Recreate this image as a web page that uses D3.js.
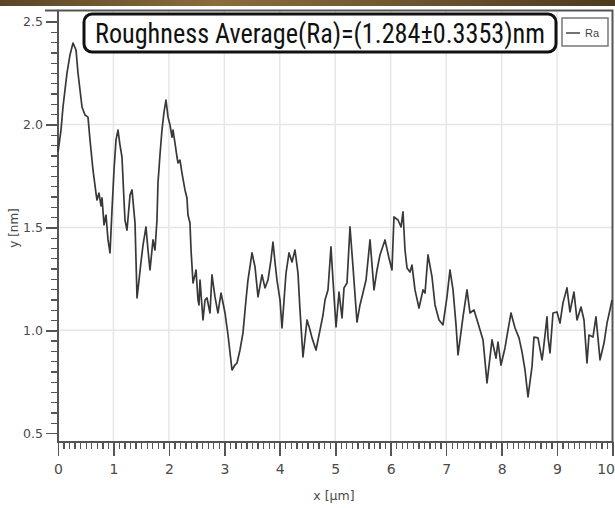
<!DOCTYPE html>
<html lang="en">
<head>
<meta charset="UTF-8">
<title>Roughness profile</title>
<script src="https://d3js.org/d3.v7.min.js"></script>
<style>
    body { margin: 0; background: #fff; }
    .axis path, .axis line { stroke: #555; shape-rendering: crispEdges; }
    .axis text { font-family: 'DejaVu Sans', sans-serif; font-size: 12.5px; fill: #4a4a4a; }
    .grid line { stroke: #e6e6e6; stroke-width: 1.5; }
    .profile { fill: none; stroke: #383838; stroke-width: 1.7; stroke-linejoin: round; }
</style>
</head>
<body>
<svg width="615" height="508"></svg>
<script>
// profile position along the scan, in µm
const xPos = [
    0.000, 0.054, 0.090, 0.162, 0.216, 0.271, 0.325, 0.361, 0.433, 0.487,
    0.541, 0.577, 0.631, 0.685, 0.703, 0.739, 0.776, 0.794, 0.830, 0.866,
    0.902, 0.938, 0.974, 1.010, 1.046, 1.082, 1.118, 1.154, 1.190, 1.208,
    1.244, 1.299, 1.335, 1.389, 1.425, 1.461, 1.497, 1.533, 1.587, 1.623,
    1.659, 1.713, 1.749, 1.785, 1.803, 1.839, 1.875, 1.912, 1.948, 1.984,
    2.020, 2.056, 2.074, 2.110, 2.146, 2.164, 2.200, 2.236, 2.290, 2.326,
    2.344, 2.380, 2.399, 2.435, 2.471, 2.489, 2.525, 2.543, 2.561, 2.615,
    2.651, 2.687, 2.741, 2.777, 2.831, 2.885, 2.940, 3.012, 3.066, 3.138,
    3.192, 3.228, 3.282, 3.336, 3.390, 3.426, 3.499, 3.553, 3.607, 3.679,
    3.733, 3.787, 3.841, 3.877, 3.913, 3.949, 4.004, 4.040, 4.112, 4.166,
    4.220, 4.274, 4.328, 4.364, 4.418, 4.491, 4.545, 4.581, 4.653, 4.725,
    4.779, 4.815, 4.869, 4.923, 4.959, 5.014, 5.068, 5.122, 5.158, 5.212,
    5.266, 5.320, 5.392, 5.446, 5.482, 5.555, 5.627, 5.699, 5.753, 5.807,
    5.897, 5.969, 6.023, 6.059, 6.132, 6.186, 6.222, 6.258, 6.294, 6.348,
    6.384, 6.438, 6.510, 6.583, 6.619, 6.673, 6.745, 6.799, 6.871, 6.943,
    7.015, 7.069, 7.124, 7.178, 7.214, 7.304, 7.376, 7.430, 7.502, 7.574,
    7.665, 7.737, 7.827, 7.899, 7.935, 7.989, 8.061, 8.115, 8.170, 8.242,
    8.314, 8.368, 8.422, 8.476, 8.548, 8.584, 8.656, 8.729, 8.747, 8.819,
    8.837, 8.873, 8.927, 8.999, 9.053, 9.107, 9.179, 9.233, 9.305, 9.360,
    9.432, 9.486, 9.540, 9.576, 9.648, 9.702, 9.775, 9.847, 9.901, 9.973,
    9.991
];
// height, in nm
const heightNm = [
    1.866, 1.973, 2.085, 2.250, 2.338, 2.396, 2.362, 2.250, 2.085, 2.046,
    2.036, 1.925, 1.779, 1.667, 1.633, 1.667, 1.604, 1.643, 1.512, 1.560,
    1.439, 1.376, 1.585, 1.779, 1.925, 1.973, 1.900, 1.842, 1.633, 1.536,
    1.487, 1.657, 1.682, 1.521, 1.157, 1.244, 1.332, 1.414, 1.502, 1.390,
    1.293, 1.439, 1.390, 1.536, 1.716, 1.852, 1.973, 2.061, 2.119, 2.036,
    1.998, 1.939, 1.973, 1.910, 1.842, 1.813, 1.827, 1.764, 1.682, 1.643,
    1.560, 1.521, 1.390, 1.230, 1.269, 1.293, 1.147, 1.123, 1.244, 1.050,
    1.147, 1.157, 1.084, 1.269, 1.162, 1.084, 1.181, 1.084, 0.977, 0.807,
    0.831, 0.841, 0.904, 0.987, 1.147, 1.244, 1.376, 1.308, 1.162, 1.269,
    1.206, 1.244, 1.342, 1.429, 1.332, 1.244, 1.147, 1.011, 1.278, 1.376,
    1.332, 1.390, 1.278, 1.099, 0.870, 1.050, 1.001, 0.963, 0.904, 1.001,
    1.074, 1.147, 1.196, 1.405, 1.244, 1.016, 1.186, 1.060, 1.206, 1.230,
    1.502, 1.308, 1.040, 1.123, 1.162, 1.244, 1.439, 1.196, 1.293, 1.366,
    1.439, 1.351, 1.293, 1.551, 1.536, 1.502, 1.575, 1.390, 1.303, 1.283,
    1.317, 1.196, 1.108, 1.196, 1.181, 1.366, 1.259, 1.123, 1.050, 1.026,
    1.162, 1.293, 1.196, 1.026, 0.880, 1.065, 1.196, 1.084, 1.099, 1.035,
    0.953, 0.744, 0.953, 0.865, 0.943, 0.831, 0.914, 1.001, 1.084, 1.011,
    0.963, 0.895, 0.807, 0.676, 0.822, 0.967, 0.963, 0.856, 0.890, 1.065,
    0.967, 0.890, 1.084, 1.089, 1.035, 1.133, 1.206, 1.089, 1.186, 1.050,
    1.113, 1.050, 0.841, 0.977, 0.967, 1.065, 0.856, 0.938, 1.035, 1.123,
    1.147
];
const xTicks = [0, 1, 2, 3, 4, 5, 6, 7, 8, 9, 10];
const yTicks = [0.5, 1.0, 1.5, 2.0, 2.5];
const yGrid = [1.0, 1.5, 2.0];
const titleText = "Roughness Average(Ra)=(1.284\u00b10.3353)nm";
const seriesName = "Ra";

const svg = d3.select("svg");
const plotL = 58, plotR = 612.5, plotT = 10.5, plotB = 442;

const x = d3.scaleLinear().domain([0, 10]).range([plotL, plotR]);
const y = d3.scaleLinear().domain([0.457, 2.554]).range([plotB, plotT]);

// brownish strip along the top edge
const grad = svg.append("defs").append("linearGradient")
    .attr("id", "wood").attr("x1", 0).attr("x2", 1);
grad.append("stop").attr("offset", "0%").attr("stop-color", "#5b4526");
grad.append("stop").attr("offset", "35%").attr("stop-color", "#8a6d3c");
grad.append("stop").attr("offset", "70%").attr("stop-color", "#6a5230");
grad.append("stop").attr("offset", "100%").attr("stop-color", "#4e3a1e");
svg.append("rect").attr("x", 0).attr("y", 0).attr("width", 615).attr("height", 6)
    .attr("fill", "url(#wood)");

// grid
const grid = svg.append("g").attr("class", "grid");
grid.selectAll(".gx").data(xTicks.slice(1, -1)).enter().append("line")
    .attr("x1", d => x(d)).attr("x2", d => x(d)).attr("y1", plotT).attr("y2", plotB);
grid.selectAll(".gy").data(yGrid).enter().append("line")
    .attr("x1", plotL).attr("x2", plotR).attr("y1", d => y(d)).attr("y2", d => y(d));

// minor ticks first, then major with labels
const xMinor = d3.range(0, 100).map(i => i / 10).filter(v => v % 1 !== 0);
const yMinor = d3.range(10, 51).map(i => i / 20).filter(v => Math.abs(v * 2 - Math.round(v * 2)) > 1e-6);

svg.append("g").attr("class", "axis")
    .attr("transform", "translate(0," + plotB + ")")
    .call(d3.axisBottom(x).tickValues(xMinor).tickSize(7).tickFormat(""))
    .call(g => g.select(".domain").remove())
    .selectAll("line").attr("stroke-width", 1.3);

svg.append("g").attr("class", "axis")
    .attr("transform", "translate(0," + plotB + ")")
    .call(d3.axisBottom(x).tickValues(xTicks).tickSize(14).tickPadding(10).tickFormat(d3.format("d")))
    .call(g => g.select(".domain").remove())
    .call(g => g.selectAll("text").style("font-size", "14px").attr("dy", "0.6em"))
    .call(g => g.selectAll("text").filter(d => d === 10).attr("text-anchor", "end").attr("x", 2))
    .selectAll("line").attr("stroke-width", 1.6);

svg.append("g").attr("class", "axis")
    .attr("transform", "translate(" + plotL + ",0)")
    .call(d3.axisLeft(y).tickValues(yMinor).tickSize(7).tickFormat(""))
    .call(g => g.select(".domain").remove())
    .selectAll("line").attr("stroke-width", 1.3);

svg.append("g").attr("class", "axis")
    .attr("transform", "translate(" + plotL + ",0)")
    .call(d3.axisLeft(y).tickValues(yTicks).tickSize(12).tickPadding(3).tickFormat(d3.format(".1f")))
    .call(g => g.select(".domain").remove())
    .selectAll("line").attr("stroke-width", 1.6);

// frame
svg.append("rect").attr("x", plotL).attr("y", plotT)
    .attr("width", plotR - plotL).attr("height", plotB - plotT)
    .attr("fill", "none").attr("stroke", "#555").attr("stroke-width", 2);
svg.append("line").attr("x1", 45).attr("x2", plotL).attr("y1", plotT).attr("y2", plotT)
    .attr("stroke", "#555").attr("stroke-width", 2);

// profile line
const pts = xPos.map((v, i) => [v, heightNm[i]]);
svg.append("path")
    .datum(pts)
    .attr("class", "profile")
    .attr("d", d3.line().x(d => x(d[0])).y(d => y(d[1])));

// axis titles
svg.append("text")
    .attr("x", 334).attr("y", 500)
    .attr("text-anchor", "middle")
    .style("font-family", "'DejaVu Sans', sans-serif").style("font-size", "12.5px").style("fill", "#4a4a4a")
    .text("x [\u00b5m]");
svg.append("text")
    .attr("transform", "translate(18,228) rotate(-90)")
    .attr("text-anchor", "middle")
    .style("font-family", "'DejaVu Sans', sans-serif").style("font-size", "12px").style("fill", "#4a4a4a")
    .text("y [nm]");

// title box
svg.append("rect")
    .attr("x", 84).attr("y", 14).attr("width", 472).attr("height", 38)
    .attr("rx", 8).attr("fill", "#fff").attr("stroke", "#111").attr("stroke-width", 3);
svg.append("text")
    .attr("x", 95).attr("y", 43)
    .attr("textLength", 450).attr("lengthAdjust", "spacingAndGlyphs")
    .style("font-family", "'Liberation Sans Narrow', 'Roboto Condensed', 'Liberation Sans', sans-serif")
    .style("font-size", "27px").style("fill", "#111")
    .text(titleText);

// legend
svg.append("rect")
    .attr("x", 562).attr("y", 18).attr("width", 46).attr("height", 28)
    .attr("fill", "#fff").attr("stroke", "#777").attr("stroke-width", 1.5);
svg.append("line")
    .attr("x1", 566).attr("x2", 580).attr("y1", 33).attr("y2", 33)
    .attr("stroke", "#444").attr("stroke-width", 1.5);
svg.append("text")
    .attr("x", 585).attr("y", 37)
    .style("font-family", "'Liberation Sans Narrow', 'Liberation Sans', sans-serif").style("font-size", "11px").style("fill", "#444")
    .text(seriesName);
</script>
</body>
</html>
